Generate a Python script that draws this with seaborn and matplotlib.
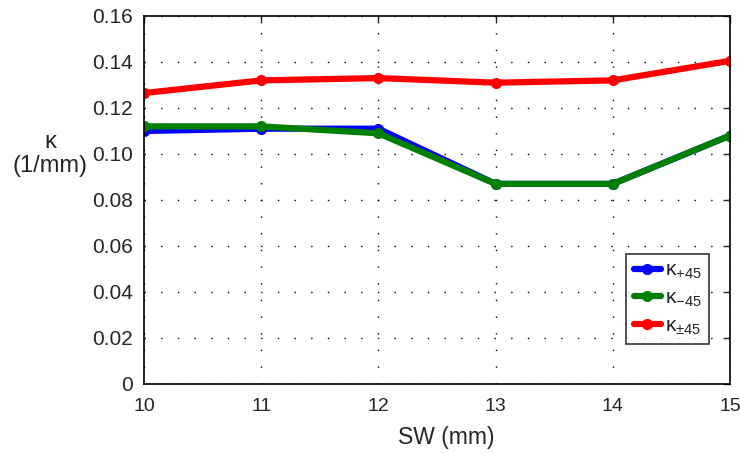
import numpy as np
import pandas as pd
import matplotlib.pyplot as plt
import seaborn as sns

# data
sw = [10, 11, 12, 13, 14, 15]
k_plus45 = [0.110, 0.111, 0.111, 0.087, 0.087, 0.108]
k_minus45 = [0.112, 0.112, 0.109, 0.087, 0.087, 0.108]
k_pm45 = [0.1265, 0.132, 0.133, 0.131, 0.132, 0.1405]
series_names = [r"$\mathregular{\kappa_{+45}}$", r"$\mathregular{\kappa_{-45}}$", r"$\mathregular{\kappa_{\pm45}}$"]
colors = ["#0000ff", "#008000", "#ff0000"]
y_ticks = [0, 0.02, 0.04, 0.06, 0.08, 0.10, 0.12, 0.14, 0.16]
y_tick_labels = ["0", "0.02", "0.04", "0.06", "0.08", "0.10", "0.12", "0.14", "0.16"]

df = pd.DataFrame({
    "SW": sw * 3,
    "kappa": k_plus45 + k_minus45 + k_pm45,
    "series": [series_names[0]] * 6 + [series_names[1]] * 6 + [series_names[2]] * 6,
})

sns.set_style("white")
plt.rcParams['font.family'] = ['Liberation Sans', 'DejaVu Sans']
plt.rcParams['mathtext.fontset'] = 'custom'
plt.rcParams['mathtext.rm'] = 'Liberation Sans'

fig = plt.figure(figsize=(7.4, 4.54), dpi=100)
ax = fig.add_axes([0.1946, 0.1542, 0.7919, 0.8106])

sns.lineplot(data=df, x="SW", y="kappa", hue="series", palette=colors,
             marker="o", markersize=8, markeredgewidth=0, linewidth=4.5,
             ax=ax)

ax.set_xlim(10, 15)
ax.set_ylim(0, 0.16)
ax.set_yticks(y_ticks)
ax.set_yticklabels(y_tick_labels)
ax.set_xticks(sw)
ax.tick_params(direction="in", length=5, top=True, right=True, width=1)
ax.tick_params(axis="y", pad=8, labelsize=15)
ax.tick_params(axis="x", pad=10, labelsize=14)
ax.grid(True, linestyle=(0, (1, 11)), color="black", linewidth=1.0)
for s in ax.spines.values():
    s.set_visible(True)
    s.set_color("black")
    s.set_linewidth(1.2)

ax.set_xlabel("SW (mm)", fontsize=16.5)
ax.xaxis.set_label_coords(0.516, -0.113)
ax.set_ylabel("κ\n(1/mm)", fontsize=17, rotation=0, va="center", linespacing=1.15)
ax.yaxis.set_label_coords(-0.160, 0.625)

leg = ax.legend(loc="lower right", bbox_to_anchor=(0.964, 0.109), fontsize=15,
                frameon=True, fancybox=False, handlelength=1.3, handletextpad=0.2,
                borderpad=0.35, labelspacing=0.35, title=None, borderaxespad=0)
leg.get_frame().set_edgecolor("black")
leg.get_frame().set_linewidth(1.2)

fig.savefig("out.png", dpi=100)
